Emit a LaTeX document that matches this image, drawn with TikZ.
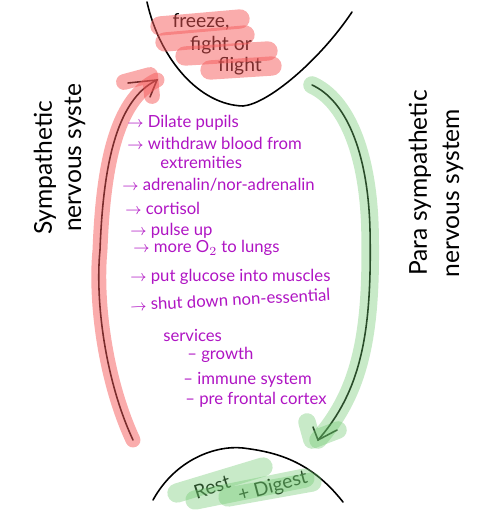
\documentclass[tikz,border=0pt]{standalone}
\usepackage{fontspec}
\setmainfont{Lato}
\definecolor{hlred}{RGB}{245,90,90}
\definecolor{hlgreen}{RGB}{110,200,110}
\definecolor{inkpurple}{RGB}{175,20,195}
\usetikzlibrary{arrows.meta}
\tikzset{
  ink/.style={line width=0.9pt,line cap=round},
  marker/.style={line cap=round,line join=round,opacity=#1},
  item/.style={anchor=west,inner sep=0pt,text=inkpurple,font=\fontsize{9.5}{11}\selectfont},
  side/.style={rotate=90,inner sep=0pt,font=\fontsize{14}{16}\selectfont},
  hand/.style={inner sep=0pt,font=\fontsize{11}{13}\selectfont}
}
\begin{document}
\begin{tikzpicture}[x=0.02cm,y=-0.02cm]
\useasboundingbox (0,0) rectangle (490,526);
\coordinate (symstart) at (133,440);
\coordinate (symmid) at (100,250);
\coordinate (symend) at (157,80);
\coordinate (parastart) at (312,85);
\coordinate (paramid) at (370,230);
\coordinate (paraend) at (318,440);
\draw[ink] (147,2) .. controls (160,60) and (200,105) .. (243,106) .. controls (268,104) and (320,60) .. (352,12);
\draw[ink] (153,500) .. controls (175,460) and (215,445) .. (243,448) .. controls (275,452) and (310,460) .. (343,502);
\node[hand] (freeze) at (201,22) {freeze,};
\node[hand] (fight) at (221,45) {fight or};
\node[hand] (flight) at (240,66) {flight};
\node[hand,rotate=18] (rest) at (212,487) {Rest};
\node[hand,rotate=15] (digest) at (273,487) {+ Digest};
\draw[ink] (symstart) .. controls (105,380) and (95,300) .. (symmid) .. controls (103,170) and (115,100) .. (symend);
\draw[ink] (128,83) -- (symend) -- (150,97);
\draw[ink] (parastart) .. controls (345,100) and (368,150) .. (paramid) .. controls (372,330) and (362,390) .. (paraend);
\draw[ink] (313,427) -- (paraend) -- (337,430);
\draw[hlred,marker=0.5,line width=8.5pt] (symstart) .. controls (105,380) and (95,300) .. (symmid) .. controls (103,170) and (115,100) .. (symend);
\draw[hlred,marker=0.5,line width=9pt] (124,82) -- (150,75) -- (152,96);
\draw[hlred,marker=0.5,line width=11pt] (160,26) -- (240,19);
\draw[hlred,marker=0.5,line width=11pt] (165,42) -- (245,35);
\draw[hlred,marker=0.5,line width=11pt] (185,56) -- (268,51);
\draw[hlred,marker=0.5,line width=11pt] (210,70) -- (272,66);
\draw[hlgreen,marker=0.38,line width=10pt] (parastart) .. controls (345,100) and (368,150) .. (paramid) .. controls (372,330) and (362,390) .. (paraend);
\draw[hlgreen,marker=0.38,line width=10pt] (307,422) -- (312,440) -- (338,430);
\draw[hlgreen,marker=0.38,line width=11pt] (177,493) -- (263,467);
\draw[hlgreen,marker=0.38,line width=11pt] (195,500) -- (305,478);
\draw[hlgreen,marker=0.38,line width=11pt] (228,497) -- (312,482);
\node[side] (sym) at (45,168) {Sympathetic};
\node[side] (symsys) at (75,158) {nervous syste};
\node[side] (para) at (420,183) {Para sympathetic};
\node[side] (parasys) at (453,193) {nervous system};
\node[item] (pupils) at (127,123) {$\rightarrow$ Dilate pupils};
\node[item] (blood) at (127,143) {$\rightarrow$ withdraw blood from};
\node[item] (extrem) at (160,162) {extremities};
\node[item] (adren) at (122,185) {$\rightarrow$ adrenalin/nor-adrenalin};
\node[item] (cortisol) at (125,208) {$\rightarrow$ cortisol};
\node[item] (pulse) at (130,231) {$\rightarrow$ pulse up};
\node[item] (oxygen) at (133,248) {$\rightarrow$ more O$_2$ to lungs};
\node[item] (glucose) at (130,277) {$\rightarrow$ put glucose into muscles};
\node[item,rotate=3] (shut) at (130,305) {$\rightarrow$ shut down non-essential};
\node[item] (services) at (163,335) {services};
\node[item] (growth) at (187,355) {-- growth};
\node[item] (immune) at (183,380) {-- immune system};
\node[item] (cortex) at (185,400) {-- pre frontal cortex};
\end{tikzpicture}
\end{document}
